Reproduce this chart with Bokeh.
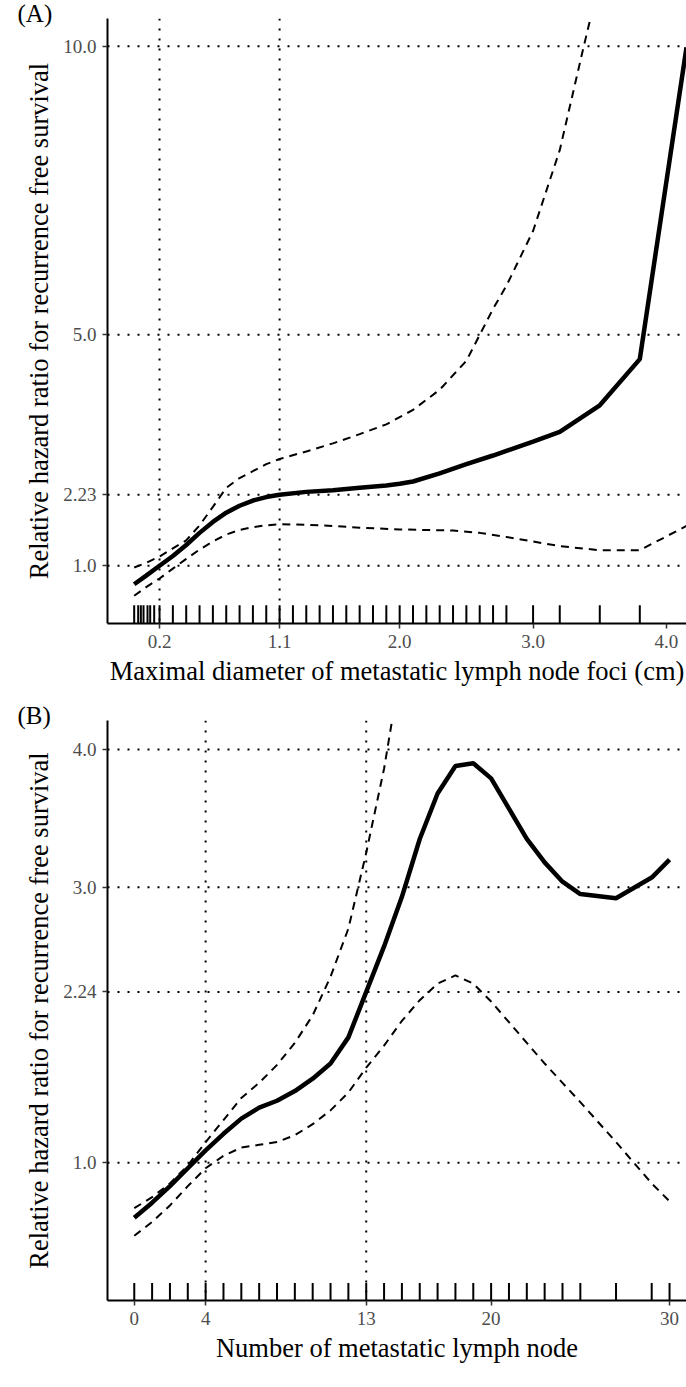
from bokeh.plotting import figure
from bokeh.layouts import column
from bokeh.models import FixedTicker, Span, Range1d, Title
from bokeh.embed import file_html
from bokeh.resources import INLINE

# ---------------- Panel A: maximal diameter (cm) ----------------
diam_x = [0.01, 0.1, 0.2, 0.3, 0.4, 0.5, 0.6, 0.7, 0.8, 0.9, 1.0, 1.1, 1.3, 1.5,
          1.7, 1.9, 2.0, 2.1, 2.3, 2.5, 2.7, 2.8, 3.0, 3.2, 3.5, 3.8, 4.15]
diam_hr = [0.68, 0.83, 1.0, 1.17, 1.36, 1.57, 1.76, 1.92, 2.04, 2.13, 2.19, 2.23, 2.28, 2.31,
           2.35, 2.39, 2.42, 2.46, 2.6, 2.76, 2.91, 2.99, 3.15, 3.32, 3.78, 4.58, 9.98]

diam_up_x = [0.01, 0.1, 0.2, 0.3, 0.4, 0.5, 0.6, 0.7, 0.8, 0.9, 1.0, 1.1, 1.3, 1.5,
             1.7, 1.9, 2.1, 2.3, 2.5, 2.7, 2.8, 3.0, 3.2, 3.38, 3.43]
diam_up = [0.97, 1.05, 1.16, 1.3, 1.44, 1.7, 2.02, 2.35, 2.52, 2.64, 2.76, 2.85, 2.98, 3.12,
           3.28, 3.45, 3.7, 4.05, 4.55, 5.45, 5.85, 6.8, 8.2, 10.0, 10.48]

diam_lo_x = [0.01, 0.1, 0.2, 0.3, 0.4, 0.5, 0.6, 0.7, 0.8, 0.9, 1.0, 1.1, 1.3, 1.5,
             1.7, 2.0, 2.2, 2.4, 2.6, 2.8, 3.0, 3.2, 3.5, 3.8, 4.15]
diam_lo = [0.48, 0.63, 0.78, 0.95, 1.12, 1.28, 1.42, 1.54, 1.62, 1.67, 1.7, 1.72, 1.71, 1.69,
           1.66, 1.63, 1.62, 1.61, 1.57, 1.5, 1.42, 1.34, 1.27, 1.27, 1.69]

diam_rug = [0.01, 0.04, 0.06, 0.08, 0.11, 0.13, 0.16, 0.2, 0.3, 0.4, 0.5, 0.6, 0.7, 0.8,
            0.9, 1.0, 1.1, 1.2, 1.3, 1.4, 1.5, 1.6, 1.7, 1.8, 1.9, 2.0, 2.1, 2.2, 2.3,
            2.4, 2.5, 2.6, 2.7, 2.8, 3.0, 3.2, 3.5, 3.8]

diam_xticks = [0.2, 1.1, 2.0, 3.0, 4.0]
diam_xlabels = ["0.2", "1.1", "2.0", "3.0", "4.0"]
diam_yticks = [1.0, 2.23, 5.0, 10.0]
diam_ylabels = ["1.0", "2.23", "5.0", "10.0"]
diam_ref_x = [0.2, 1.1]
diam_ref_y = [1.0, 2.23, 5.0, 10.0]

# ---------------- Panel B: number of metastatic lymph nodes ----------------
node_x = [0, 1, 2, 3, 4, 5, 6, 7, 8, 9, 10, 11, 12, 13, 14, 15, 16, 17, 18, 19,
          20, 21, 22, 23, 24, 25, 27, 29, 30]
node_hr = [0.6, 0.71, 0.83, 0.96, 1.09, 1.21, 1.32, 1.4, 1.45, 1.52, 1.61, 1.72, 1.91,
           2.24, 2.57, 2.93, 3.35, 3.68, 3.88, 3.9, 3.79, 3.57, 3.35, 3.18, 3.04, 2.95,
           2.92, 3.07, 3.2]
node_lo = [0.47, 0.57, 0.69, 0.83, 0.96, 1.05, 1.11, 1.13, 1.15, 1.2, 1.28, 1.38, 1.51,
           1.69, 1.85, 2.03, 2.18, 2.3, 2.36, 2.3, 2.17, 2.02, 1.87, 1.72, 1.58, 1.44,
           1.15, 0.85, 0.72]
node_up_x = [0, 1, 2, 3, 4, 5, 6, 7, 8, 9, 10, 11, 12, 13, 14, 14.5]
node_up = [0.67, 0.75, 0.85, 0.98, 1.15, 1.31, 1.47, 1.58, 1.71, 1.87, 2.07, 2.35, 2.7,
           3.25, 3.86, 4.25]

node_rug = [0, 1, 2, 3, 4, 5, 6, 7, 8, 9, 10, 11, 12, 13, 14, 15, 16, 17, 18, 19, 20,
            21, 22, 23, 24, 25, 27, 29, 30]

node_xticks = [0, 4, 13, 20, 30]
node_xlabels = ["0", "4", "13", "20", "30"]
node_yticks = [1.0, 2.24, 3.0, 4.0]
node_ylabels = ["1.0", "2.24", "3.0", "4.0"]
node_ref_x = [4, 13]
node_ref_y = [1.0, 2.24, 3.0, 4.0]

Y_TITLE = "Relative hazard ratio for recurrence free survival"
SERIF = "Liberation Serif"


def panel(tag, x_title, xr, yr, height, top, bottom,
          cx, cy, ux, uy, lx, ly, rug, xt, xl, yt, yl, ref_x, ref_y):
    p = figure(width=686, height=height, x_range=Range1d(*xr), y_range=Range1d(*yr),
               output_backend="svg", toolbar_location=None,
               min_border_left=107, min_border_right=0,
               min_border_top=top, min_border_bottom=bottom)
    p.grid.visible = False
    p.outline_line_color = None
    p.background_fill_color = "white"
    p.border_fill_color = "white"

    # panel tag in the upper-left margin, level with the top of the y axis
    p.title = Title(text=tag, align="left", offset=-95, standoff=-26, padding=5,
                    text_font=SERIF, text_font_size="25px", text_font_style="normal",
                    text_color="black")
    p.title_location = "above"

    for ax in (p.xaxis[0], p.yaxis[0]):
        ax.axis_line_color = "black"
        ax.axis_line_width = 2
        ax.major_tick_line_color = "#333333"
        ax.major_tick_line_width = 1.5
        ax.major_tick_out = 5
        ax.major_tick_in = 0
        ax.minor_tick_line_color = None
        ax.major_label_text_font = SERIF
        ax.major_label_text_font_size = "19px"
        ax.major_label_text_color = "#4D4D4D"
        ax.axis_label_text_font = SERIF
        ax.axis_label_text_font_size = "26.5px"
        ax.axis_label_text_font_style = "normal"
        ax.axis_label_text_color = "black"

    p.xaxis.ticker = FixedTicker(ticks=xt)
    p.xaxis.major_label_overrides = dict(zip(xt, xl))
    p.xaxis.axis_label = x_title
    p.xaxis.major_label_standoff = 6
    p.xaxis.axis_label_standoff = 5

    p.yaxis.ticker = FixedTicker(ticks=yt)
    p.yaxis.major_label_overrides = dict(zip(yt, yl))
    p.yaxis.axis_label = Y_TITLE
    p.yaxis.major_label_standoff = 6
    p.yaxis.axis_label_standoff = 6

    # dotted reference lines
    for v in ref_x:
        p.add_layout(Span(location=v, dimension="height", line_color="black",
                          line_width=2, line_dash="2 8"))
    for v in ref_y:
        p.add_layout(Span(location=v, dimension="width", line_color="black",
                          line_width=2, line_dash="2 8"))

    # rug of observed values along the x axis
    rug_len = 0.03 * (yr[1] - yr[0])
    p.segment(x0=rug, y0=[yr[0]] * len(rug), x1=rug, y1=[yr[0] + rug_len] * len(rug),
              line_color="black", line_width=2)

    # confidence limits and estimate
    p.line(ux, uy, line_color="black", line_width=2, line_dash="8 6")
    p.line(lx, ly, line_color="black", line_width=2, line_dash="8 6")
    p.line(cx, cy, line_color="black", line_width=4.5)
    return p


pa = panel("(A)", "Maximal diameter of metastatic lymph node foci (cm)",
           (-0.19, 4.15), (0, 10.48), 695, 18, 72,
           diam_x, diam_hr, diam_up_x, diam_up, diam_lo_x, diam_lo, diam_rug,
           diam_xticks, diam_xlabels, diam_yticks, diam_ylabels, diam_ref_x, diam_ref_y)

pb = panel("(B)", "Number of metastatic lymph node",
           (-1.5, 30.95), (0, 4.21), 692, 25, 87,
           node_x, node_hr, node_up_x, node_up, node_x, node_lo, node_rug,
           node_xticks, node_xlabels, node_yticks, node_ylabels, node_ref_x, node_ref_y)

layout = column(pa, pb, spacing=0)
open("out.html", "w").write(file_html(layout, INLINE))
